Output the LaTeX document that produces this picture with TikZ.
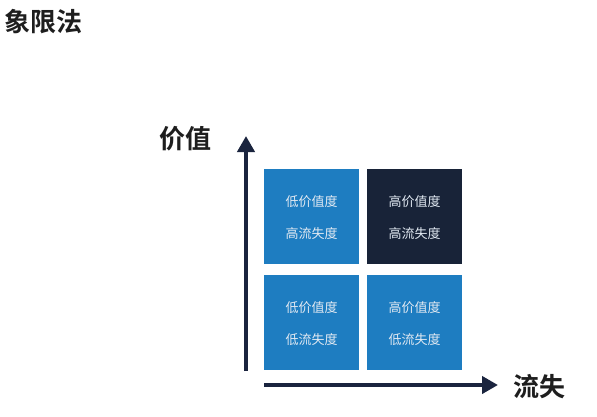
\documentclass[tikz,border=0pt]{standalone}
\usepackage{fontspec}
\newfontfamily\cjk{Noto Sans CJK SC}
\newfontfamily\cjkb{Noto Sans CJK SC Bold}
\usetikzlibrary{arrows.meta}
\definecolor{qblue}{RGB}{30,125,193}
\definecolor{qdark}{RGB}{24,35,56}
\definecolor{qaxis}{RGB}{26,36,62}
\definecolor{qtxt}{RGB}{225,233,242}
\definecolor{qtitle}{RGB}{30,30,30}
\tikzset{
  cell/.style={minimum width=95pt,minimum height=95pt,inner sep=0pt,draw=none},
  celltxt/.style={text=qtxt,font=\cjk\fontsize{13}{15}\selectfont,inner sep=0pt},
  axis/.style={draw=qaxis,line width=4pt,-{Triangle[length=16pt,width=17pt]}},
  title/.style={text=qtitle,font=\cjkb\fontsize{26}{30}\selectfont,inner sep=0pt}
}
\begin{document}
\begin{tikzpicture}[x=1pt,y=-1pt]
\useasboundingbox[fill=white] (0,0) rectangle (597,416);
\node[title,anchor=west] (t) at (4,22) {象限法};
\node[title,anchor=west] (yl) at (159,139) {价值};
\node[title,anchor=west] (xl) at (513,387) {流失};
\node[cell,fill=qblue] (c1) at (311.5,216.5) {};
\node[cell,fill=qdark] (c2) at (414.5,216.5) {};
\node[cell,fill=qblue] (c3) at (311.5,322.5) {};
\node[cell,fill=qblue] (c4) at (414.5,322.5) {};
\node[celltxt] (c1a) at (311.5,201.5) {低价值度};
\node[celltxt] (c1b) at (311.5,233.5) {高流失度};
\node[celltxt] (c2a) at (414.5,201.5) {高价值度};
\node[celltxt] (c2b) at (414.5,233.5) {高流失度};
\node[celltxt] (c3a) at (311.5,307.5) {低价值度};
\node[celltxt] (c3b) at (311.5,339.5) {低流失度};
\node[celltxt] (c4a) at (414.5,307.5) {高价值度};
\node[celltxt] (c4b) at (414.5,339.5) {低流失度};
\coordinate (ys) at (246,371);
\coordinate (ye) at (246,136);
\coordinate (xs) at (264,385);
\coordinate (xe) at (498,385);
\draw[axis] (ys) -- (ye);
\draw[axis] (xs) -- (xe);
\end{tikzpicture}
\end{document}
